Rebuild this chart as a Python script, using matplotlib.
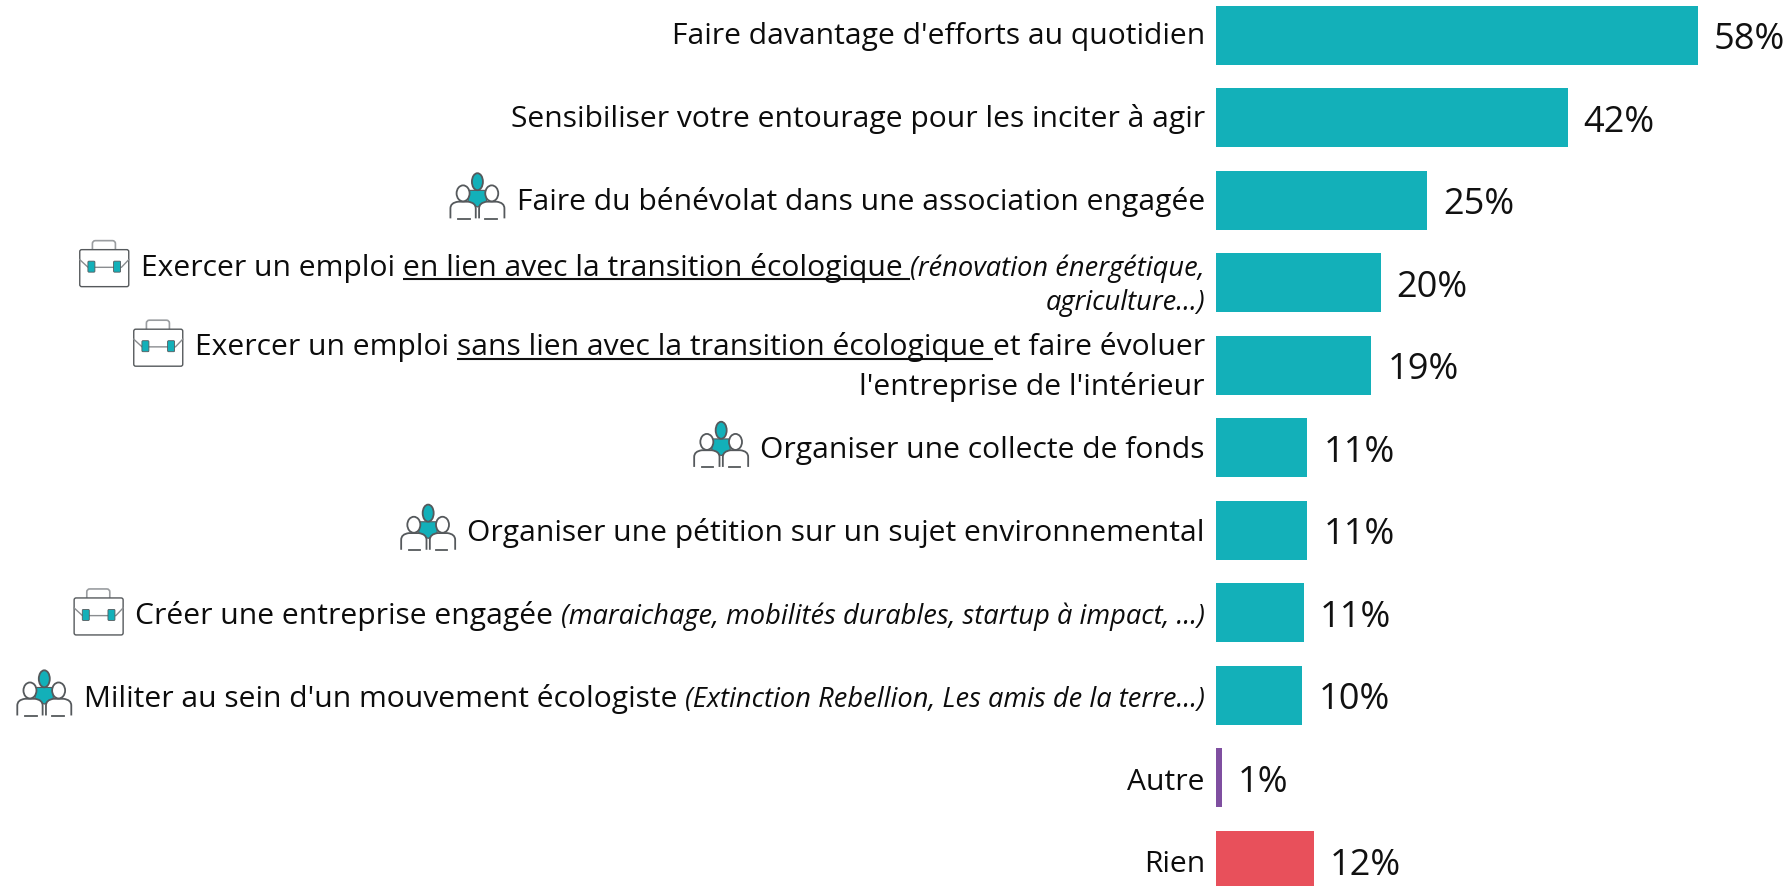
import matplotlib
matplotlib.use("Agg")
from matplotlib import pyplot as plt
from matplotlib.patches import Ellipse, Polygon, FancyBboxPatch, PathPatch
from matplotlib.path import Path

plt.rcParams['font.family'] = ['Open Sans', 'DejaVu Sans']

W, H = 1790, 886
TEAL = '#13B0B9'
PURPLE = '#7F4FA0'
RED = '#E8505B'
GREY = '#55595C'

values = [58.0, 42.3, 25.4, 19.8, 18.7, 11.0, 11.0, 10.6, 10.4, 0.7, 11.8]
value_labels = ['58%', '42%', '25%', '20%', '19%', '11%', '11%', '11%', '10%', '1%', '12%']
colors = [TEAL] * 9 + [PURPLE, RED]

# one entry per row, one list per line, runs are (text, style) : n normal, u underlined, i italic
labels = [
    [[("Faire davantage d'efforts au quotidien", 'n')]],
    [[("Sensibiliser votre entourage pour les inciter à agir", 'n')]],
    [[("Faire du bénévolat dans une association engagée", 'n')]],
    [[("Exercer un emploi", 'n'), ("en lien avec la transition écologique", 'u'),
      ("(rénovation énergétique,", 'i')],
     [("agriculture...)", 'i')]],
    [[("Exercer un emploi", 'n'), ("sans lien avec la transition écologique", 'u'),
      ("et faire évoluer", 'n')],
     [("l'entreprise de l'intérieur", 'n')]],
    [[("Organiser une collecte de fonds", 'n')]],
    [[("Organiser une pétition sur un sujet environnemental", 'n')]],
    [[("Créer une entreprise engagée", 'n'),
      ("(maraichage, mobilités durables, startup à impact, ...)", 'i')]],
    [[("Militer au sein d'un mouvement écologiste", 'n'),
      ("(Extinction Rebellion, Les amis de la terre...)", 'i')]],
    [[("Autre", 'n')]],
    [[("Rien", 'n')]],
]
icons = [None, None, 'people', 'case', 'case', 'people', 'people', 'case', 'people', None, None]

BAR_X = 1216
PX_PER_PCT = 8.31
FIRST_Y = 35
STEP = 82.55
BAR_H = 59
TEXT_RIGHT = 1205
FS = 21.6
FS_I = 19.6
FS_VAL = 26
LINE_OFFSET = {3: (-17, 17), 4: (-20, 20)}

fig = plt.figure(figsize=(W / 100, H / 100), dpi=100, facecolor='white')

ax = fig.add_axes([BAR_X / W, 0, 1 - BAR_X / W, 1])
ax.set_xlim(0, (W - BAR_X) / PX_PER_PCT)
ax.set_ylim((H - FIRST_Y) / STEP, -FIRST_Y / STEP)
ax.axis('off')
ypos = list(range(len(values)))
ax.barh(ypos, values, height=BAR_H / STEP, color=colors, linewidth=0)
for y, v, lab in zip(ypos, values, value_labels):
    ax.annotate(lab, (v, y), xytext=(16, -14), textcoords='offset pixels',
                ha='left', va='baseline', fontsize=FS_VAL, color='#111111')

# overlay in pixel coords for the composed labels and the icons
ov = fig.add_axes([0, 0, 1, 1])
ov.set_xlim(0, W)
ov.set_ylim(H, 0)
ov.axis('off')
ov.patch.set_alpha(0)
renderer = fig.canvas.get_renderer()
SPACE = 8


def draw_line(runs, y):
    # goes right to left, returns the left edge of the line
    x = TEXT_RIGHT
    for k, (txt, style) in enumerate(reversed(runs)):
        kw = {'fontsize': FS_I, 'style': 'italic'} if style == 'i' else {'fontsize': FS}
        t = ov.text(x, y + 10, txt, ha='right', va='baseline', color='#0c0c0c', **kw)
        w = t.get_window_extent(renderer).width
        if style == 'u':
            ov.plot([x - w, x + SPACE], [y + 13.5, y + 13.5], color='#111111', lw=1.5,
                    solid_capstyle='butt')
        x -= w + SPACE
    return x + SPACE


def people(x0, y0):
    # zoom px of the reference, 3 units = 1 px
    def P(zx, zy):
        return (x0 + (zx - 80) / 3, y0 + (zy - 35) / 3)

    body = [P(135, 88), P(190, 88), P(190, 122), P(163, 138), P(135, 122)]
    ov.add_patch(Polygon(body, fc=TEAL, ec=GREY, lw=0.8, zorder=3))
    cx, cy = P(163, 62)
    ov.add_patch(Ellipse((cx, cy), 11, 17, fc=TEAL, ec=GREY, lw=1.3, zorder=4))
    for sign in (1, -1):
        mx = 163
        def Q(zx, zy):
            return P(mx + sign * (zx - mx), zy)
        c = Q(120, 97)
        verts = [Q(82, 172), Q(82, 142), Q(82, 125), Q(105, 122), Q(135, 122),
                 Q(158, 125), Q(158, 142), Q(158, 172)]
        codes = [Path.MOVETO, Path.LINETO, Path.CURVE3, Path.CURVE3, Path.LINETO,
                 Path.CURVE3, Path.CURVE3, Path.LINETO]
        ov.add_patch(PathPatch(Path(verts, codes), fc='white', ec=GREY, lw=1.3, zorder=4))
        ov.add_patch(Ellipse(c, 13, 16, fc='white', ec=GREY, lw=1.3, zorder=5))
        ov.plot(*zip(Q(105, 173), Q(140, 173)), color=GREY, lw=1.3, zorder=5)


def case(x0, y0):
    def P(zx, zy):
        return (x0 + (zx - 75) / 3, y0 + (zy - 42) / 3)

    hx, hy = P(113, 45)
    ov.add_patch(FancyBboxPatch((hx + 3, hy + 3), 17, 10, boxstyle='round,pad=3', fc='white',
                                ec='#9a9da0', lw=1.2, zorder=2))
    bx, by = P(75, 72)
    ov.add_patch(FancyBboxPatch((bx + 2, by + 2), 45, 33, boxstyle='round,pad=2', fc='white',
                                ec=GREY, lw=1.0, zorder=3))
    ov.plot(*zip(P(75, 102), P(100, 125), P(200, 125), P(222, 102)), color='#8a8d90', lw=1.0, zorder=4)
    for zx in (110, 187):
        cx, cy = P(zx, 123)
        ov.add_patch(FancyBboxPatch((cx - 2.5, cy - 4.5), 5, 9, boxstyle='round,pad=1', fc=TEAL,
                                    ec=GREY, lw=0.6, zorder=5))


for i, lines in enumerate(labels):
    center = FIRST_Y + i * STEP
    # single lines drift slightly down the chart in the reference
    offs = LINE_OFFSET.get(i, (-1 + 0.3 * i,))
    for n, (line, off) in enumerate(zip(lines, offs)):
        left = draw_line(line, center + off)
        if n == 0 and icons[i] == 'people':
            people(left - 11 - 56, center + off - 27)
        elif n == 0 and icons[i] == 'case':
            case(left - 12 - 49, center + off - 26)

fig.savefig('out.png', dpi=100)
